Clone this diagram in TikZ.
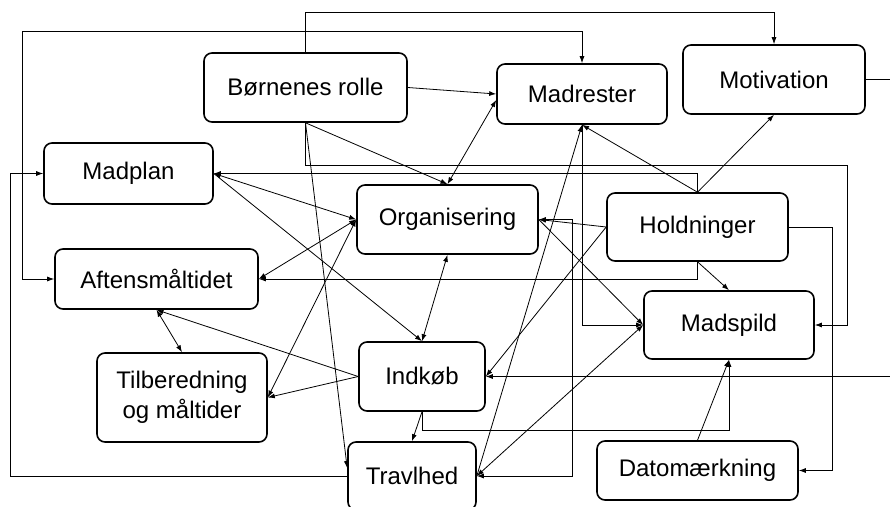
\documentclass[tikz,border=0pt]{standalone}
\usepackage{fontspec}
\setmainfont{Liberation Sans}
\usetikzlibrary{arrows.meta}

\begin{document}
\begin{tikzpicture}[x=1pt, y=-1pt,
		boks/.style = {draw, line width=1.6pt, rounded corners=8pt, align=center, font=\fontsize{24}{30}\selectfont},
		pil/.style = {line width=0.8pt, -{Latex[length=7pt,width=5pt]}},
		dobbeltpil/.style = {line width=0.8pt, {Latex[length=7pt,width=5pt]}-{Latex[length=7pt,width=5pt]}},
		linje/.style = {line width=0.8pt}]
				\clip (0,0) rectangle (890,506);
				\fill[white] (0,0) rectangle (890,506);
				
				% kasserne
				\node[boks, minimum width=203pt, minimum height=69pt] (born) at (305.5,87.5) {Børnenes rolle};
				\node[boks, minimum width=170pt, minimum height=60pt] (madrester) at (582,94) {Madrester};
				\node[boks, minimum width=182pt, minimum height=69pt] (motivation) at (774,79.5) {Motivation};
				\node[boks, minimum width=169pt, minimum height=61pt] (madplan) at (128.5,173.5) {Madplan};
				\node[boks, minimum width=181pt, minimum height=69pt] (org) at (447.5,219.5) {Organisering};
				\node[boks, minimum width=181pt, minimum height=68pt] (hold) at (697.5,227) {Holdninger};
				\node[boks, minimum width=203pt, minimum height=60pt] (aften) at (156.5,279) {Aftensmåltidet};
				\node[boks, minimum width=170pt, minimum height=89pt] (tilb) at (182,397.5) {Tilberedning\\og måltider};
				\node[boks, minimum width=126pt, minimum height=69pt] (indkob) at (422,376.5) {Indkøb};
				\node[boks, minimum width=128pt, minimum height=68pt] (travl) at (412,476) {Travlhed};
				\node[boks, minimum width=170pt, minimum height=68pt] (madspild) at (729,325) {Madspild};
				\node[boks, minimum width=201pt, minimum height=59pt] (dato) at (697.5,470.5) {Datomærkning};
				
				% vinklede forbindelser
				\draw[pil] (born.north) -- ++(0,-40) -| (motivation.north);
				\draw[dobbeltpil] (aften.west) -- ++(-32,0) -- ++(0,-248) -| (madrester.north);
				\draw[pil] (travl.west) -- ++(-337,0) |- (madplan.west);
				\draw[pil] (born.south) -- ++(0,43) -- ++(541.5,0) |- (madspild.east);
				\draw[pil] (hold.north) |- (madplan.east);
				\draw[pil] (indkob.south) -- ++(0,19) -| (madspild.south);
				\draw[pil] (motivation.east) -- ++(35,0) |- (indkob.east);
				\draw[dobbeltpil] (org.east) -- ++(34,0) |- (travl.east);
				\draw[pil] (madrester.south) |- (madspild.west);
				\draw[pil] (hold.south) |- (aften.east);
				\draw[pil] (hold.east) -- ++(44,0) |- (dato.east);
				
				% lige forbindelser
				\draw[pil] (born.east) -- (madrester.west);
				\draw[pil] (born.south) -- (org.north);
				\draw[pil] (born.south) -- (travl.173);
				\draw[dobbeltpil] (madplan.east) -- (org.west);
				\draw[pil] (madplan.east) -- (indkob.north);
				\draw[dobbeltpil] (madrester.184) -- (org.north);
				\draw[dobbeltpil] (org.south) -- (indkob.north);
				\draw[dobbeltpil] (org.west) -- (aften.east);
				\draw[dobbeltpil] (org.west) -- (tilb.east);
				\draw[pil] (indkob.west) -- (aften.south);
				\draw[dobbeltpil] (aften.south) -- (tilb.north);
				\draw[pil] (indkob.west) -- (tilb.east);
				\draw[pil] (indkob.south) -- (travl.north);
				\draw[pil] (dato.north) -- (madspild.south);
				\draw[pil] (hold.west) -- (org.east);
				\draw[pil] (org.east) -- (madspild.west);
				\draw[dobbeltpil] (travl.east) -- (madspild.west);
				\draw[pil] (travl.east) -- (madrester.south);
				\draw[pil] (hold.north) -- (madrester.south);
				\draw[pil] (hold.north) -- (motivation.south);
				\draw[pil] (hold.west) -- (indkob.east);
				\draw[pil] (hold.south) -- (madspild.north);
			\end{tikzpicture}
\end{document}
